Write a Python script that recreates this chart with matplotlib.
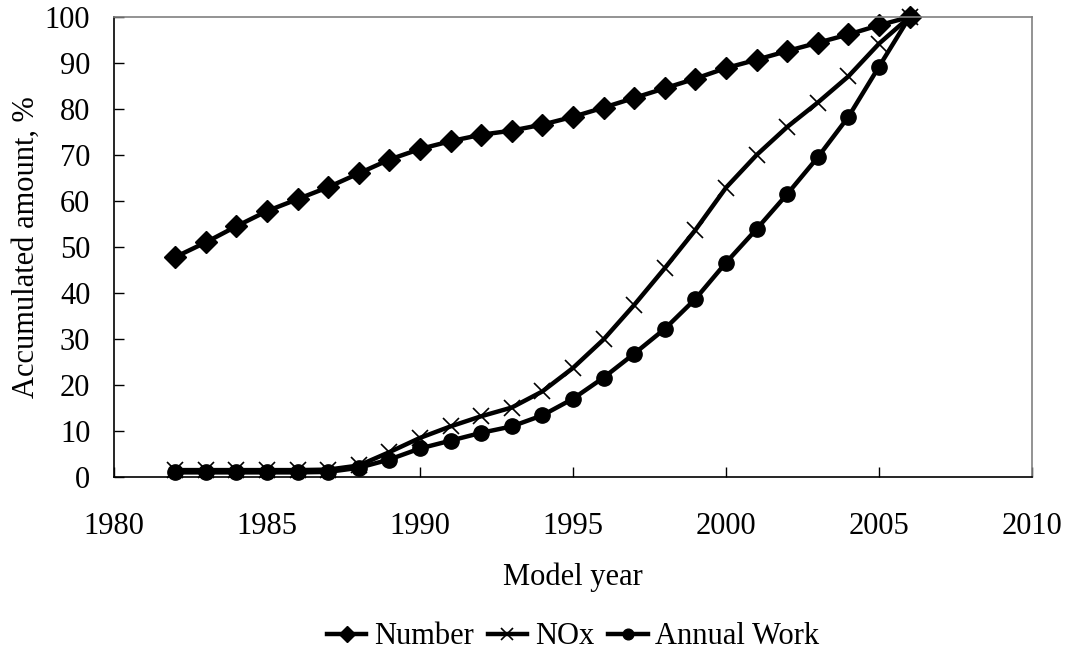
import numpy as np
import matplotlib
matplotlib.use("Agg")
import matplotlib.pyplot as plt

plt.rcParams['font.family'] = ['Liberation Serif', 'DejaVu Serif']

years = np.arange(1982, 2007)
# Accumulated amount, %
number = [47.8, 51.0, 54.5, 57.8, 60.4, 63.0, 66.0, 69.0, 71.3, 73.0,
          74.4, 75.3, 76.6, 78.3, 80.3, 82.4, 84.5, 86.6, 88.9, 90.7,
          92.6, 94.4, 96.2, 98.2, 100.0]
nox = [1.5, 1.5, 1.5, 1.5, 1.5, 1.6, 2.5, 5.4, 8.5, 11.0,
       13.2, 15.1, 18.6, 23.7, 29.9, 37.4, 45.4, 53.7, 62.9, 70.0,
       76.1, 81.4, 87.1, 94.2, 100.0]
annual_work = [1.0, 1.0, 1.0, 1.0, 1.0, 1.1, 2.0, 3.8, 6.2, 7.9,
               9.6, 11.0, 13.4, 17.0, 21.6, 26.8, 32.2, 38.7, 46.6, 53.9,
               61.5, 69.5, 78.3, 89.2, 100.0]

fig = plt.figure(figsize=(10.69, 6.51), dpi=100)
ax = fig.add_axes([0.1066, 0.2673, 0.8588, 0.7066])

l1, = ax.plot(years, number, '-', color='black', lw=3.2, marker='D',
              markersize=11, label='Number', clip_on=False)
l2, = ax.plot(years, nox, '-', color='black', lw=3.2, marker='x',
              markersize=12, markeredgewidth=1.2, label='NOx', clip_on=False)
l3, = ax.plot(years, annual_work, '-', color='black', lw=3.2, marker='o',
              markersize=11, label='Annual Work', clip_on=False)

ax.set_xlim(1980, 2010)
ax.set_ylim(0, 100)
ax.set_xticks(np.arange(1980, 2011, 5))
ax.set_yticks(np.arange(0, 101, 10))
ax.tick_params(direction='in', length=7, width=1, labelsize=22)
ax.tick_params(axis='y', pad=17)
ax.tick_params(axis='x', pad=25)

for s in ['top', 'right']:
    ax.spines[s].set_color('#808080')
for s in ['left', 'bottom']:
    ax.spines[s].set_color('black')
for s in ax.spines.values():
    s.set_linewidth(1.2)

ax.set_xlabel('Model year', fontsize=22, labelpad=16)
ax.set_ylabel('Accumulated amount, %', fontsize=22, labelpad=3)

# legend sits under the plot area, centred on the axes
fig.legend(handles=[l1, l2, l3], loc='center', ncol=3,
           bbox_to_anchor=(573 / 1069, 1 - 637 / 651), frameon=False,
           fontsize=22, handlelength=1.3, handletextpad=0.25,
           columnspacing=0.45, markerscale=0.7)

fig.savefig('out.png', dpi=100)
